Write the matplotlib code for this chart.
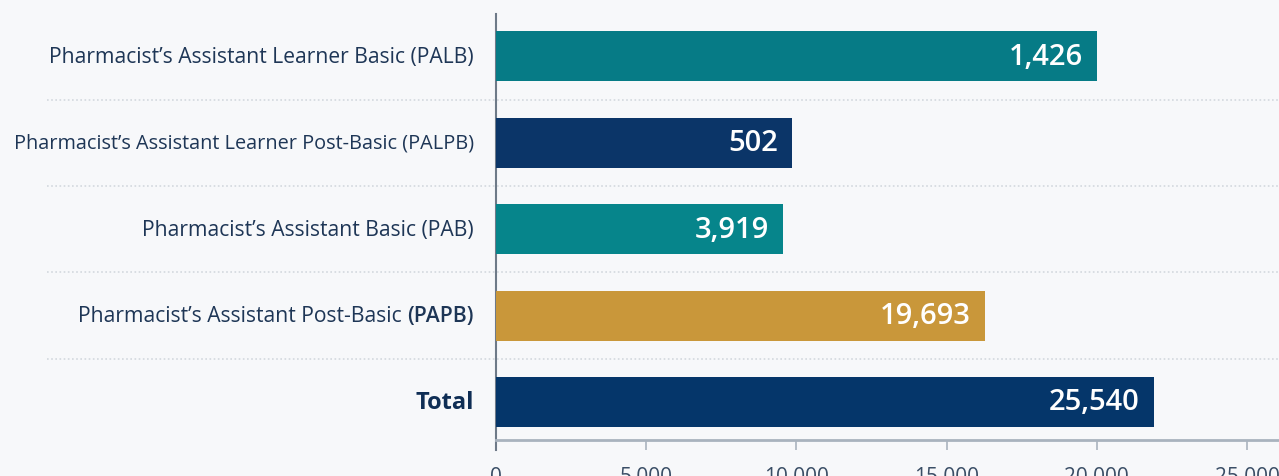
import matplotlib
matplotlib.use('Agg')
import matplotlib.pyplot as plt
import matplotlib.transforms as mtransforms
from matplotlib.lines import Line2D

# rows, top to bottom
categories = ['Pharmacist\u2019s Assistant Learner Basic (PALB)',
              'Pharmacist\u2019s Assistant Learner Post-Basic (PALPB)',
              'Pharmacist\u2019s Assistant Basic (PAB)',
              'Pharmacist\u2019s Assistant Post-Basic (PAPB)',
              'Total']
bar_lengths = [20000, 9850, 9550, 16280, 21900]   # as drawn
value_labels = ['1,426', '502', '3,919', '19,693', '25,540']
bar_colors = ['#067B86', '#0B3568', '#06858B', '#C9973A', '#05366A']
xticks = [0, 5000, 10000, 15000, 20000, 25000]
xtick_labels = ['0', '5,000', '10,000', '15,000', '20,000', '25,000']

bg = '#F7F8FA'
navy = '#1E3656'

plt.rcParams['font.family'] = ['Open Sans', 'DejaVu Sans']

fig = plt.figure(figsize=(12.79, 4.77), dpi=100, facecolor=bg)
ax = fig.add_axes([496/1279, 1 - 441/477, 1 - 496/1279, (441 - 15)/477])
ax.set_facecolor(bg)

ypos = list(range(len(categories)))
ax.barh(ypos, bar_lengths, height=0.58, color=bar_colors, zorder=3)

ax.set_xlim(0, 26065)
ax.set_ylim(4.44, -0.49)

# value labels inside bar ends
for y, w, lab in zip(ypos, bar_lengths, value_labels):
    ax.annotate(lab, xy=(w, y), xytext=(-14, 0), textcoords='offset pixels',
                ha='right', va='center', color='white', fontsize=21,
                fontweight='semibold', zorder=4)

# dotted separators running into the label area
trans = mtransforms.blended_transform_factory(fig.transFigure, ax.transData)
for y in ypos[:-1]:
    fig.add_artist(Line2D([47/1279, 1.0], [y + 0.5, y + 0.5], transform=trans,
                          color='#D3D8DE', lw=1.2, linestyle=(0, (1, 1.5))))

# category labels (PAPB row has its abbreviation a bit heavier,
# the long PALPB label is set a touch tighter like in the original)
pad_px = 22
for y, cat in zip(ypos, categories):
    fs = 14.3 if '(PALPB)' in cat else 15.2
    if cat == 'Total':
        ax.annotate(cat, xy=(0, y), xytext=(-pad_px, 0), textcoords='offset pixels',
                    ha='right', va='center', fontsize=17, fontweight='bold',
                    color='#0F2E55')
    elif cat.endswith('(PAPB)'):
        t2 = ax.annotate('(PAPB)', xy=(0, y), xytext=(-pad_px, 0),
                         textcoords='offset pixels', ha='right', va='center',
                         fontsize=fs, fontweight='semibold', color=navy)
        fig.canvas.draw()
        w2 = t2.get_window_extent().width
        ax.annotate(cat[:-6], xy=(0, y), xytext=(-pad_px - w2, 0),
                    textcoords='offset pixels', ha='right', va='center',
                    fontsize=fs, color=navy)
    else:
        ax.annotate(cat, xy=(0, y), xytext=(-pad_px, 0), textcoords='offset pixels',
                    ha='right', va='center', fontsize=fs, color=navy)

ax.set_yticks([])

ax.set_xticks(xticks)
ax.set_xticklabels(xtick_labels, fontsize=15, color='#3A4E66')
ax.tick_params(axis='x', length=7, width=1.2, color='#A9B3BE', pad=12)

for s in ['top', 'right']:
    ax.spines[s].set_visible(False)
ax.spines['bottom'].set_color('#A9B3BE')
ax.spines['bottom'].set_linewidth(2)
ax.spines['left'].set_color('#6E7A88')
ax.spines['left'].set_linewidth(1.5)
ax.spines['left'].set_bounds(4.55, -0.49)

fig.savefig('out.png', dpi=100, facecolor=bg)
